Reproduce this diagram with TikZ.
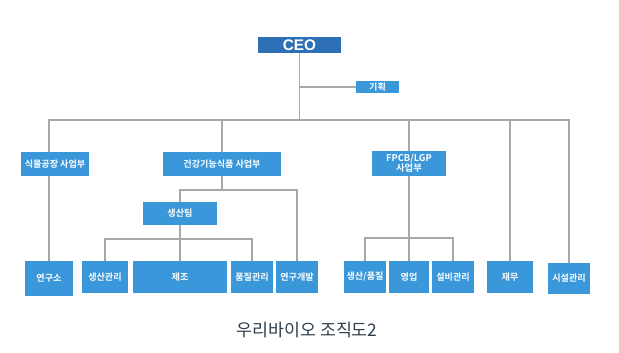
\documentclass[tikz,border=0pt]{standalone}
\usepackage{fontspec}
\setmainfont{Liberation Sans}
\newfontfamily\kr{Noto Sans CJK KR}[BoldFont={Noto Sans CJK KR Bold}]
\definecolor{boxblue}{HTML}{3A97D9}
\definecolor{ceoblue}{HTML}{2E70B8}
\definecolor{linegray}{HTML}{A8A8A8}
\definecolor{captxt}{HTML}{2E3E4E}
\begin{document}
\begin{tikzpicture}[x=0.75pt,y=-0.75pt,
  box/.style={fill=boxblue, draw=none, text=white, inner sep=0pt, align=center,
    font=\kr\bfseries\fontsize{6.8}{8}\selectfont},
  sz/.style 2 args={minimum width=#1*0.75pt, minimum height=#2*0.75pt},
  conn/.style={draw=linegray, line width=1.2pt}]
\useasboundingbox (0,0) rectangle (619,353);
% nodes
\node[box, sz={83}{16}, fill=ceoblue, font=\bfseries\fontsize{11.5}{12}\selectfont] (ceo) at (299.5,45) {CEO};
\node[box, sz={43}{12}] (plan) at (377.5,87) {기획};
\coordinate (bus) at (0,120);
\node[box, sz={68}{24}] (plant) at (55,164) {식물공장 사업부};
\node[box, sz={118}{24}] (health) at (222,164) {건강기능식품 사업부};
\node[box, sz={74}{25}, font=\kr\bfseries\fontsize{7}{7.6}\selectfont] (fpcb) at (409,163.5) {FPCB/LGP\\사업부};
\node[box, sz={74}{23}] (team) at (180,213.5) {생산팀};
\node[box, sz={48}{35}] (lab) at (49,278.5) {연구소};
\node[box, sz={46}{32}] (pm) at (105,277) {생산관리};
\node[box, sz={94}{32}] (mfg) at (180,277) {제조};
\node[box, sz={42}{32}] (qc) at (252,277) {품질관리};
\node[box, sz={42}{32}] (rnd) at (297,277) {연구개발};
\node[box, sz={42}{32}] (pq) at (365,277) {생산/품질};
\node[box, sz={40}{32}] (sales) at (409,277) {영업};
\node[box, sz={42}{32}] (equip) at (453,277) {설비관리};
\node[box, sz={46}{32}] (fin) at (510,277) {재무};
\node[box, sz={42}{31}] (fac) at (569,278.5) {시설관리};
\node[font=\kr\fontsize{13}{15}\selectfont, text=captxt] (cap) at (307,330) {우리바이오 조직도2};
% connectors
\draw[conn] (ceo.south) -- (ceo.south |- bus);
\draw[conn] (ceo.south |- plan.west) -- (plan.west);
\draw[conn] (plant.north -| lab.north) -- (lab.north |- bus) -- (fac.north |- bus) -- (fac.north);
\draw[conn] (lab.north |- plant.south) -- (lab.north);
\draw[conn] (health.north) -- (health.north |- bus);
\draw[conn] (fpcb.north) -- (fpcb.north |- bus);
\draw[conn] (fin.north) -- (fin.north |- bus);
\draw[conn] (health.south) -- ++(0,14);
\draw[conn] (team.north) -- ++(0,-12) -| (rnd.north);
\draw[conn] (team.south) -- (mfg.north);
\draw[conn] (pm.north) -- ++(0,-22) -| (qc.north);
\draw[conn] (fpcb.south) -- (sales.north);
\draw[conn] (pq.north) -- ++(0,-23) -| (equip.north);
\end{tikzpicture}
\end{document}
